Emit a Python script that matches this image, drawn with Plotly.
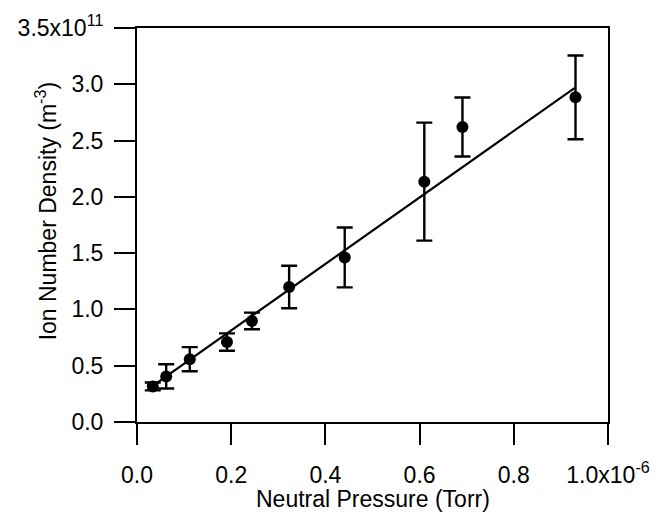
import plotly.graph_objects as go

# Data (pressure in Torr, density in m^-3)
pressure = [0.0335e-6, 0.062e-6, 0.112e-6, 0.191e-6, 0.244e-6, 0.323e-6, 0.441e-6, 0.610e-6, 0.691e-6, 0.931e-6]
density = [0.316e11, 0.405e11, 0.558e11, 0.710e11, 0.898e11, 1.199e11, 1.462e11, 2.135e11, 2.621e11, 2.884e11]
density_err = [0.035e11, 0.108e11, 0.107e11, 0.077e11, 0.074e11, 0.189e11, 0.266e11, 0.524e11, 0.262e11, 0.372e11]

# Linear fit parameters
fit_intercept = 0.222e11
fit_slope = 2.955e17
fit_x = [0.0335e-6, 0.9288e-6]
fit_y = [fit_intercept + fit_slope * x for x in fit_x]

x_tickvals = [0, 0.2e-6, 0.4e-6, 0.6e-6, 0.8e-6, 1.0e-6]
x_ticktext = ["0.0", "0.2", "0.4", "0.6", "0.8", "1.0x10<sup>-6</sup>"]
y_tickvals = [0, 0.5e11, 1.0e11, 1.5e11, 2.0e11, 2.5e11, 3.0e11, 3.5e11]
y_ticktext = ["0.0", "0.5", "1.0", "1.5", "2.0", "2.5", "3.0", "3.5x10<sup>11</sup>"]

x_title = "Neutral Pressure (Torr)"
y_title = "Ion Number Density (m<sup>-3</sup>)"

fig = go.Figure()
fig.add_trace(go.Scatter(
    x=fit_x, y=fit_y, mode="lines",
    line=dict(color="black", width=2.2), showlegend=False, hoverinfo="skip"))
fig.add_trace(go.Scatter(
    x=pressure, y=density, mode="markers",
    marker=dict(color="black", size=12, symbol="circle"),
    error_y=dict(type="data", array=density_err, visible=True,
                 color="black", thickness=2.4, width=8),
    showlegend=False))

font_family = "Liberation Sans, Arial, sans-serif"
FS = 23
fig.update_layout(
    width=648, height=506,
    margin=dict(l=128.5, r=47.7, t=20.3, b=91.7, autoexpand=False),
    paper_bgcolor="white", plot_bgcolor="white",
    font=dict(family=font_family, size=FS, color="black"),
    xaxis=dict(
        range=[0, 1.0e-6], tickvals=x_tickvals, ticktext=x_ticktext,
        showline=True, linecolor="black", linewidth=2, mirror=True,
        ticks="outside", ticklen=21, tickwidth=2, tickcolor="black",
        showgrid=False, zeroline=False, ticklabelstandoff=10,
        tickfont=dict(size=FS),
    ),
    yaxis=dict(
        range=[0, 3.5e11], tickvals=y_tickvals, ticktext=y_ticktext,
        showline=True, linecolor="black", linewidth=2, mirror=True,
        ticks="outside", ticklen=21, tickwidth=2, tickcolor="black",
        showgrid=False, zeroline=False, ticklabelstandoff=6,
        tickfont=dict(size=FS),
    ),
    annotations=[
        dict(text=x_title, xref="paper", yref="paper",
             x=0.5, y=-0.1947, xanchor="center", yanchor="middle",
             showarrow=False, font=dict(size=FS)),
        dict(text=y_title, xref="paper", yref="paper",
             x=-0.1939, y=0.5338, xanchor="center", yanchor="middle",
             textangle=-90, showarrow=False, font=dict(size=FS)),
    ],
)

fig.write_html("out.html")
